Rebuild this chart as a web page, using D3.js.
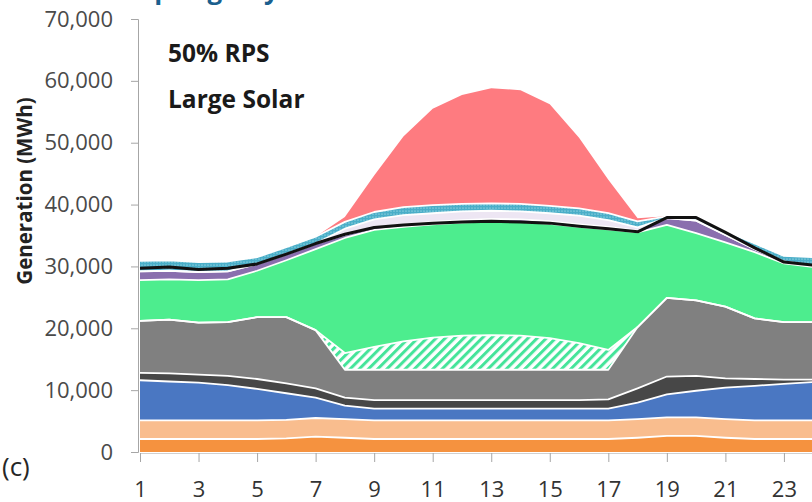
<!DOCTYPE html>
<html><head><meta charset="utf-8">
<script src="https://cdn.jsdelivr.net/npm/d3@7"></script>
<style>body{margin:0;background:#fff}svg{display:block}</style>
</head><body>
<svg id="c" width="812" height="502"></svg>
<script>
// ---- data (MWh per hour, hours 1..24) ----
const hours = d3.range(1, 25);
const orange  = [2100,2100,2100,2100,2100,2200,2500,2300,2100,2100,2100,2100,2100,2100,2100,2100,2100,2300,2600,2600,2300,2100,2100,2100];
const peach   = [3000,3000,3000,3000,3000,3000,3000,3000,3000,3000,3000,3000,3000,3000,3000,3000,3000,3000,3000,3000,3000,3000,3000,3000];
const blue    = [6500,6300,6100,5700,5100,4300,3300,2200,1900,1900,1900,1900,1900,1900,1900,1900,1900,2700,3700,4300,5100,5600,5900,6200];
const darkGray= [1200,1300,1300,1500,1600,1600,1500,1300,1400,1400,1400,1400,1400,1400,1400,1400,1500,2300,2900,2400,1500,1100,700,400];
const gray    = [8400,8700,8400,8700,10000,10700,9400,4500,4900,4900,4900,4900,4900,4900,4900,4900,4800,9900,12700,12200,11600,9800,9300,9300];
const hatched = [0,0,0,0,0,0,0,2700,3700,4600,5200,5500,5600,5500,5100,4300,3200,0,0,0,0,0,0,0];
const green   = [6600,6500,6900,6900,7500,9200,13100,18600,18900,18500,18300,18300,18400,18400,18500,18800,19500,15300,11800,10900,10400,10700,9500,8900];
const purple  = [1400,1400,1300,1300,1100,1000,900,500,400,400,400,400,400,400,400,400,400,300,1100,2000,1200,500,300,200];
const lavender= [0,0,0,0,0,0,0,1000,1300,1500,1400,1400,1300,1300,1300,1400,1100,500,0,0,0,0,0,0];
const teal    = [1700,1700,1600,1600,1100,1100,1100,1100,1200,1300,1300,1200,1200,1200,1200,1200,1100,1000,300,300,600,900,900,1400];
const red     = [0,0,0,0,0,0,0,800,5900,11400,15600,17600,18600,18400,16400,11400,5400,500,0,0,0,0,0,0];
const load    = [29700,29900,29500,29700,30400,32000,33700,35200,36300,36700,37000,37200,37300,37200,37000,36500,36100,35600,37900,37900,35500,33000,30700,30200];
const xTicks = [1,3,5,7,9,11,13,15,17,19,21,23];
const yTicks = [0,10000,20000,30000,40000,50000,60000,70000];

const seriesData = {orange, peach, blue, darkGray, gray, hatched, green, purple, lavender, teal, red};
const keys = Object.keys(seriesData);
const fills = {orange:"#f5923f", peach:"#f9bd8e", blue:"#4a77c2", darkGray:"#474747", gray:"#808080",
  hatched:"url(#hatch)", green:"#4ded8e", purple:"#8a6fae", lavender:"#ede6f3", teal:"url(#dots)", red:"#fe7b80"};

const table = hours.map((h, i) => {
  const row = {hour: h};
  keys.forEach(k => row[k] = seriesData[k][i]);
  return row;
});

const svg = d3.select("#c");
const defs = svg.append("defs");
const hp = defs.append("pattern").attr("id","hatch").attr("patternUnits","userSpaceOnUse")
  .attr("width",6.5).attr("height",6.5).attr("patternTransform","rotate(45)");
hp.append("rect").attr("width",6.5).attr("height",6.5).attr("fill","#fff");
hp.append("rect").attr("width",3).attr("height",6.5).attr("fill","#45e49a");
const dp = defs.append("pattern").attr("id","dots").attr("patternUnits","userSpaceOnUse")
  .attr("width",3).attr("height",3);
dp.append("rect").attr("width",3).attr("height",3).attr("fill","#4aaec8");
dp.append("circle").attr("cx",1).attr("cy",1).attr("r",0.6).attr("fill","#c9edf4");

const x = d3.scaleLinear().domain([1, 24]).range([140, 813.2]);
const y = d3.scaleLinear().domain([0, 70000]).range([452, 19]);

const stacked = d3.stack().keys(keys)(table);
const area = d3.area().x(d => x(d.data.hour)).y0(d => y(d[0])).y1(d => y(d[1]));
const topLine = d3.line().x(d => x(d.data.hour)).y(d => y(d[1]));

svg.append("g").selectAll("path").data(stacked).join("path")
  .attr("d", area).attr("fill", d => fills[d.key]);
svg.append("g").selectAll("path").data(stacked.filter(s => s.key !== "red")).join("path")
  .attr("d", topLine).attr("fill","none").attr("stroke","#fff").attr("stroke-width",1.8)
  .attr("stroke-linejoin","round");

svg.append("path").datum(hours.map((h,i)=>[h, load[i]]))
  .attr("d", d3.line().x(d => x(d[0])).y(d => y(d[1])))
  .attr("fill","none").attr("stroke","#111").attr("stroke-width",3).attr("stroke-linejoin","round");

// axes
const yAxis = svg.append("g").attr("transform","translate(138,0)")
  .call(d3.axisLeft(y).tickValues(yTicks).tickFormat(d3.format(",")).tickSize(7).tickPadding(18));
yAxis.selectAll("path,line").attr("stroke","#a6a6a6");
yAxis.selectAll("text").attr("font-family","'Open Sans', sans-serif").attr("font-size",22).attr("fill","#4a4a4a");

const xAxis = svg.append("g").attr("transform","translate(0,453)")
  .call(d3.axisBottom(x).tickValues(xTicks).tickFormat(d => String(d)).tickSize(9).tickSizeOuter(0));
xAxis.select(".domain").attr("stroke","#d0d0d0");
xAxis.selectAll("line").attr("stroke","#a6a6a6");
xAxis.selectAll("text").attr("dy",null).attr("y",44)
  .attr("font-family","'Open Sans', sans-serif").attr("font-size",22).attr("fill","#333");

// labels
svg.append("text").attr("transform","translate(32,191) rotate(-90)").attr("text-anchor","middle")
  .attr("font-family","'Open Sans', sans-serif").attr("font-weight","bold").attr("font-size",20.5)
  .attr("fill","#222").text("Generation (MWh)");
svg.append("text").attr("x",168).attr("y",62).attr("font-family","'Open Sans', sans-serif")
  .attr("font-weight","bold").attr("font-size",24.5).attr("fill","#1a1a1a").text("50% RPS");
svg.append("text").attr("x",168).attr("y",108).attr("font-family","'Open Sans', sans-serif")
  .attr("font-weight","bold").attr("font-size",24.5).attr("fill","#1a1a1a").text("Large Solar");
svg.append("text").attr("x",2).attr("y",476).attr("font-family","'Open Sans', sans-serif")
  .attr("font-size",26).attr("fill","#262626").text("(c)");
svg.append("text").attr("x",140).attr("y",-1).attr("font-family","'Open Sans', sans-serif")
  .attr("font-weight","bold").attr("font-size",26).attr("fill","#1b5f8e").text("Spring Day");
</script>
</body></html>
